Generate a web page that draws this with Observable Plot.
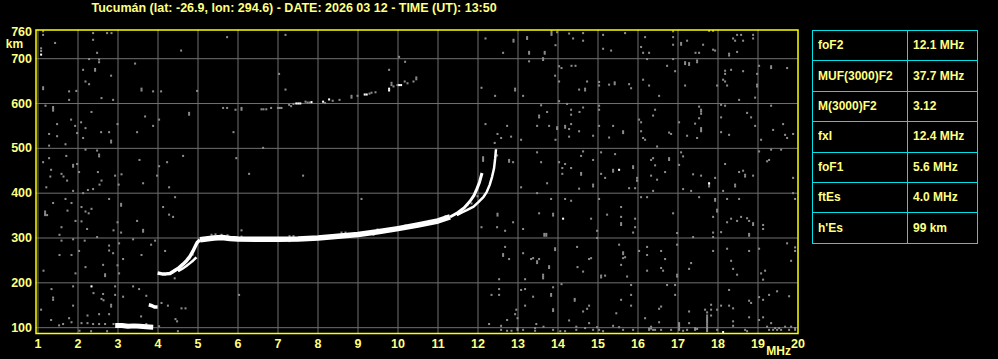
<!DOCTYPE html>
<html><head><meta charset="utf-8">
<script src="https://cdn.jsdelivr.net/npm/d3@7"></script>
<script src="https://cdn.jsdelivr.net/npm/@observablehq/plot@0.6"></script>
<style>
html,body{margin:0;padding:0;background:#000;}
#wrap{position:relative;width:998px;height:359px;background:#000;overflow:hidden;font-family:"Liberation Sans",Arial,sans-serif;}
#wrap svg{position:absolute;left:0;top:0;}
.tl{position:absolute;background:#00e0e8;}
.tt{position:absolute;color:#ffff80;font:bold 12px "Liberation Sans",Arial,sans-serif;line-height:14px;white-space:nowrap;}
</style>
</head><body>
<div id="wrap"></div>
<script>
const title = "Tucumán (lat: -26.9, lon: 294.6) - DATE: 2026 03 12 - TIME (UT): 13:50";
const ticksX = [1,2,3,4,5,6,7,8,9,10,11,12,13,14,15,16,17,18,19,20];
const gridX = [1,2,3,4,5,6,7,8,9,10,11,12,13,14,15,16,17,18,19];
const ticksY = [100,200,300,400,500,600,700,760];
const gridY = [100,200,300,400,500,600,700];
const tableLabels = ["foF2","MUF(3000)F2","M(3000)F2","fxI","foF1","ftEs","h'Es"];
const tableValues = ["12.1 MHz","37.7 MHz","3.12","12.4 MHz","5.6 MHz","4.0 MHz","99 km"];

// main F-layer O trace [MHz, km]
const traceO = [[3.99,222],[4.1,220],[4.2,220],[4.3,221],[4.39,226],[4.5,232],[4.62,241],[4.72,250],[4.8,259],[4.87,270],[4.93,281],[4.98,290],[5.05,296],[5.2,298],[5.4,300],[5.6,301],[5.8,299],[6.0,298],[6.5,297],[7.0,297],[7.5,298],[8.0,300],[8.5,304],[9.0,308],[9.5,314],[10.0,321],[10.5,329],[11.0,338],[11.3,347],[11.5,357],[11.65,367],[11.8,382],[11.9,395],[11.97,409],[12.04,425],[12.1,445]];
// X trace near cusp
const traceX = [[11.47,351],[11.6,357],[11.72,362],[11.89,370],[12.01,380],[12.14,392],[12.22,403],[12.29,418],[12.35,436],[12.4,455],[12.43,478],[12.45,498]];
// lower split branch
const traceLow = [[4.5,226],[4.6,231],[4.7,237],[4.8,244],[4.88,250],[4.96,257]];
// sporadic E traces
const traceEs = [[2.93,105],[3.1,105],[3.25,103],[3.4,104],[3.55,103],[3.7,102],[3.88,101]];
const traceEs2 = [[3.77,151],[3.85,149],[3.92,146],[3.99,146]];
// isolated bright echoes
const whiteCells = [[1.09,708],[2.35,191],[14.14,342],[15.54,451],[17.79,421],[18.14,89],[7.47,599],[7.52,599],[7.57,599],[7.85,602],[8.14,603],[8.29,608],[9.18,619],[9.23,619],[9.79,632],[9.79,628],[10.04,640],[10.09,640]];
// faint echoes (2-hop and trace edges)
const faintCells = [[6.1,589],[6.1,585],[6.6,586],[6.65,586],[6.72,586],[6.84,589],[7.01,589],[7.06,589],[7.1,589],[7.29,596],[7.34,593],[7.4,598],[7.7,603],[7.75,601],[7.8,601],[8.19,600],[8.38,605],[8.55,607],[8.85,616],[8.85,612],[9.0,616],[9.3,621],[9.35,623],[9.45,624],[9.85,640],[9.85,645],[9.9,637],[10.0,640],[10.18,648],[10.25,644],[10.4,648],[10.47,653],[10.47,657],
[5.35,306],[5.45,307],[5.6,306],[5.75,305],[6.1,302],[7.3,303],[7.4,303],[8.6,311],[8.7,311],[9.5,318],[10.2,327],[10.8,337],[11.2,348],[11.6,362],[9.4,306],[8.55,300],[7.3,292],[4.45,228],[4.58,233],[4.8,253],[4.88,262],[11.75,372],[11.85,376],[12.0,392]];
// background noise
const noise = [[1.14,760],[1.14,752],[1.09,722],[1.09,716],[1.44,734],[2.39,756],[2.39,741],[2.74,756],[2.85,756],[2.49,712],[4.59,717],[5.74,747],[2.29,698],[2.54,697],[2.54,691],[3.44,688],[2.14,674],[2.44,676],[2.44,672],[2.84,661],[2.2,648],[2.29,642],[1.14,635],[1.14,631],[3.6,632],[3.6,628],[1.79,626],[1.97,627],[3.89,626],[4.09,626],[4.99,627],[2.6,611],[2.89,607],[1.79,607],[1.39,591],[1.39,587],[1.39,583],[1.2,594],[5.64,589],[5.74,589],[5.95,585],[4.79,578],[4.79,574],[2.35,580],[3.69,570],[1.84,563],[2.09,557],[1.49,553],[1.94,549],[2.2,544],[3.0,553],[4.04,563],[3.89,549],[3.49,535],[2.59,535],[2.79,535],[1.29,531],[1.99,533],[1.49,526],[2.14,522],[2.84,516],[2.84,512],[1.7,508],[1.29,505],[5.9,535],[2.2,496],[2.49,494],[2.54,485],[2.54,481],[1.29,477],[1.72,482],[1.14,468],[1.89,462],[1.89,458],[1.99,464],[2.04,446],[1.34,451],[1.6,442],[1.65,436],[1.32,436],[1.74,427],[2.51,446],[2.6,427],[2.94,438],[3.99,438],[3.55,473],[4.04,459],[4.24,468],[4.64,482],[3.1,441],[3.03,418],[3.64,421],[2.55,418],[2.39,408],[2.26,406],[2.14,399],[1.89,404],[1.22,412],[4.29,412],[5.97,477],[1.39,377],[1.19,358],[1.19,354],[1.19,350],[1.24,350],[1.7,386],[1.85,377],[1.75,360],[2.1,368],[2.2,358],[2.28,354],[2.35,364],[2.79,386],[3.09,375],[3.09,371],[1.95,337],[2.1,336],[1.6,323],[2.24,319],[3.0,334],[2.9,316],[3.09,311],[3.49,337],[3.64,317],[3.64,313],[4.14,368],[4.29,351],[4.39,346],[4.44,390],[1.55,306],[1.6,293],[1.89,296],[2.18,293],[2.49,301],[2.04,270],[2.79,282],[2.79,271],[2.89,265],[3.04,287],[3.39,296],[3.84,284],[3.94,293],[3.6,261],[3.14,252],[4.19,270],[1.55,261],[1.85,261],[2.2,234],[2.64,239],[2.69,218],[2.69,214],[3.0,238],[3.04,220],[1.95,220],[1.15,226],[4.43,209],[1.35,185],[1.39,166],[1.39,161],[1.89,191],[2.4,176],[2.64,174],[2.94,191],[2.94,172],[3.14,168],[3.39,191],[3.54,185],[2.6,163],[2.65,160],[2.84,150],[2.84,146],[3.72,170],[4.1,154],[4.26,148],[4.6,142],[4.7,142],[4.45,118],[4.49,113],[1.09,139],[1.34,116],[1.54,104],[1.64,107],[1.79,120],[1.85,111],[1.89,148],[2.1,109],[2.25,126],[2.25,109],[2.39,107],[2.54,129],[2.54,107],[2.69,107],[2.79,129],[2.05,92],[2.34,91],[2.74,91],[3.59,124],[3.72,107],[4.04,102],[4.51,91],[2.9,107],
[7.2,752],[10.04,703],[10.19,692],[7.04,665],[9.79,674],[7.2,630],[6.64,500],[6.29,442],[7.64,438],[9.1,386],[6.04,172],[6.1,316],
[12.2,744],[12.9,741],[12.9,737],[13.24,747],[13.24,743],[13.85,756],[13.85,760],[13.85,752],[13.99,758],[14.29,755],[14.39,744],[14.64,756],[14.64,739],[15.14,752],[13.29,714],[13.29,710],[13.68,714],[13.68,710],[13.95,729],[15.14,721],[15.34,717],[12.64,712],[13.29,693],[13.64,700],[13.64,696],[14.04,682],[14.1,678],[14.35,683],[14.45,683],[13.94,661],[14.04,648],[14.74,648],[15.04,647],[15.04,639],[15.29,641],[15.43,646],[15.43,642],[14.54,630],[14.69,632],[14.69,628],[12.94,632],[12.94,628],[12.1,634],[12.44,616],[13.14,616],[14.04,604],[13.59,595],[14.24,598],[14.34,585],[14.34,574],[14.64,590],[14.55,580],[15.04,594],[15.04,585],[13.54,568],[13.54,572],[13.74,580],[12.2,553],[12.74,549],[13.49,549],[13.79,549],[13.99,546],[13.99,542],[14.19,549],[14.19,545],[14.34,553],[14.29,542],[14.54,537],[15.04,549],[15.39,549],[15.29,523],[14.89,527],[14.29,525],[13.95,518],[13.09,518],[12.84,525],[12.59,522],[12.5,531],[12.43,511],[13.49,490],[14.64,492],[14.59,482],[15.09,490],[15.44,486],[12.79,473],[12.79,469],[12.89,468],[12.49,483],[13.59,468],[14.04,468],[14.19,464],[14.34,455],[14.12,455],[14.12,442],[14.59,444],[14.59,440],[14.89,473],[15.09,442],[15.19,433],[15.39,451],[15.39,447],[14.89,418],[14.89,414],[14.54,409],[13.74,421],[13.09,412],[13.49,399],[13.84,386],[14.19,386],[14.34,382],[15.04,386],[13.54,354],[13.89,353],[13.89,349],[12.5,353],[12.5,349],[14.84,342],[15.24,351],[12.1,323],[12.49,323],[12.69,315],[12.89,334],[13.14,319],[13.67,308],[13.72,308],[13.67,304],[13.72,304],[14.99,315],[14.99,299],[12.69,279],[12.64,259],[12.64,263],[12.79,252],[13.14,265],[13.34,252],[13.39,254],[13.49,243],[13.49,247],[13.54,252],[13.79,232],[13.79,236],[13.94,276],[13.94,272],[14.49,279],[14.84,254],[14.79,252],[14.5,234],[14.64,224],[15.09,211],[15.09,215],[15.19,215],[13.64,209],[13.64,213],[13.64,217],[13.19,207],[12.54,207],[13.89,189],[14.1,196],[13.09,183],[13.19,185],[12.54,185],[12.54,172],[12.35,172],[13.39,168],[13.84,170],[13.84,174],[13.89,136],[13.89,140],[13.19,148],[14.43,163],[14.43,159],[14.79,148],[14.74,141],[14.64,135],[12.97,139],[12.94,129],[12.74,116],[12.29,107],[12.59,103],[12.59,94],[13.0,120],[13.0,94],[13.0,98],[13.47,107],[13.44,98],[13.44,92],[13.14,94],[13.65,101],[13.89,94],[14.07,91],[14.19,91],[14.29,115],[14.47,101],[14.47,94],[14.69,98],[14.79,109],[14.89,94],[14.99,100],[15.04,94],[15.14,91],[15.39,103],[12.85,92],[12.74,92],[12.14,475],[12.14,479],[12.14,471],
[15.69,756],[16.19,747],[16.89,760],[16.89,747],[16.89,730],[17.24,739],[17.09,734],[17.09,730],[16.14,712],[16.29,712],[16.09,725],[17.45,712],[17.54,712],[17.64,730],[17.79,761],[17.89,761],[17.89,719],[17.94,717],[18.39,744],[18.44,739],[18.49,752],[18.59,752],[18.64,739],[18.89,752],[18.89,744],[18.29,706],[18.29,710],[18.49,714],[16.24,698],[16.89,698],[17.19,691],[17.19,687],[17.29,685],[17.29,689],[17.49,695],[17.49,691],[16.74,683],[16.94,671],[18.19,672],[18.19,665],[18.34,674],[18.64,671],[19.04,683],[19.34,682],[19.34,678],[19.74,678],[18.99,665],[18.99,637],[18.99,641],[16.14,652],[18.14,652],[18.19,648],[18.24,639],[17.99,639],[17.19,639],[16.29,639],[15.79,642],[15.84,633],[16.54,616],[18.54,607],[18.94,612],[17.54,592],[17.59,581],[17.59,576],[17.59,585],[18.09,596],[18.19,594],[19.34,594],[16.44,585],[16.39,572],[17.44,554],[17.54,566],[17.59,544],[17.59,537],[17.59,540],[17.04,557],[18.09,568],[18.74,578],[18.84,568],[18.94,549],[19.64,553],[19.39,540],[19.69,529],[19.74,522],[19.89,531],[19.09,518],[15.64,537],[15.64,533],[16.04,563],[16.09,557],[16.09,537],[16.14,522],[16.19,518],[16.79,534],[16.84,531],[17.24,527],[17.49,522],[18.09,535],[18.29,529],[16.49,503],[16.39,477],[16.34,473],[16.44,461],[16.79,477],[16.79,473],[17.04,462],[17.09,490],[17.14,481],[16.34,438],[16.49,429],[16.69,446],[15.89,459],[15.89,455],[15.99,433],[15.99,427],[15.79,410],[15.94,410],[16.39,404],[17.14,408],[17.34,404],[17.39,441],[17.59,438],[17.94,433],[17.79,418],[17.79,414],[18.19,464],[18.54,446],[18.64,449],[18.69,440],[18.69,436],[18.44,418],[18.44,414],[18.89,438],[18.14,404],[19.04,492],[19.34,496],[19.59,496],[19.29,473],[19.24,470],[19.89,433],[16.09,390],[16.24,390],[17.54,390],[17.94,386],[17.94,382],[17.99,362],[17.99,358],[18.24,386],[18.54,386],[19.89,399],[19.94,386],[15.59,368],[15.59,346],[15.59,328],[15.59,332],[15.94,342],[15.94,323],[15.89,311],[16.89,354],[17.89,346],[17.89,311],[17.89,301],[18.09,312],[18.24,334],[18.34,342],[18.49,337],[18.59,346],[18.74,343],[18.79,337],[18.89,332],[18.89,328],[18.79,308],[18.79,304],[19.14,328],[19.14,319],[16.99,310],[17.39,301],[15.54,284],[15.64,267],[15.64,263],[15.64,254],[15.69,256],[15.59,239],[15.74,213],[16.04,270],[16.24,279],[16.24,261],[16.59,270],[16.69,252],[16.59,232],[16.64,226],[16.24,226],[16.99,284],[16.99,213],[16.99,217],[17.34,243],[17.29,230],[17.89,270],[18.24,275],[18.34,248],[18.39,230],[18.49,217],[18.79,270],[19.04,275],[19.09,220],[19.19,226],[19.14,206],[19.74,287],[19.94,278],[19.94,270],[19.84,248],[15.84,194],[15.84,172],[15.59,161],[15.84,148],[15.47,131],[16.74,194],[16.94,194],[16.94,172],[16.59,146],[16.54,141],[16.19,120],[16.54,111],[17.29,135],[17.69,139],[17.74,133],[17.84,150],[17.84,139],[17.99,139],[18.09,148],[18.29,183],[18.29,148],[18.39,142],[18.39,113],[18.39,103],[18.79,159],[18.84,154],[18.79,122],[19.04,167],[19.14,161],[19.29,172],[19.49,180],[19.79,169],[19.04,116],[19.14,122],[19.34,109],[17.29,109],[17.04,109],[17.04,105],[17.04,101],[17.04,97],[17.04,94],[17.74,126],[17.74,122],[17.74,118],[17.74,114],[17.74,110],[17.74,106],[17.74,102],[17.74,98],[17.74,94],[17.74,91],[17.84,126],[15.54,100],[15.64,94],[15.89,94],[16.29,94],[16.34,101],[16.39,94],[16.44,94],[16.59,94],[16.84,94],[17.14,92],[17.24,94],[17.44,98],[17.99,94],[18.69,94],[18.74,91],[19.24,101],[19.29,94],[19.39,94],[19.44,98],[19.49,94],[19.54,98],[19.59,94],[19.69,101],[19.79,94],[19.84,101],[19.94,94],[19.94,98],[15.99,427],[17.49,96],[17.44,94],[16.34,97],[16.29,97]];

const YEL = "#ffff80";
const cell = (data, fill) => Plot.rect(data, {
  x1: d => d[0] - 0.025, x2: d => d[0] + 0.025,
  y1: d => d[1] - 2.3, y2: d => d[1] + 2.3, fill, inset: 0
});
const line = (data, w) => Plot.line(data, {x: d => d[0], y: d => d[1], stroke: "white", strokeWidth: w, strokeLinecap: "butt", curve: "linear"});

const chart = Plot.plot({
  width: 998, height: 359,
  marginLeft: 35.5, marginRight: 200.5, marginTop: 29.5, marginBottom: 26,
  style: {background: "#000", color: YEL, fontFamily: "'Liberation Sans', Arial, sans-serif", fontWeight: "bold", fontSize: "12.5px", overflow: "visible"},
  x: {domain: [0.95, 20]},
  y: {domain: [87, 764]},
  marks: [
    Plot.ruleX(gridX, {stroke: "#707070", strokeWidth: 1}),
    Plot.ruleY(gridY, {stroke: "#707070", strokeWidth: 1}),
    cell(noise, "#8c8c8c"),
    cell(faintCells, "#8c8c8c"),
    line(traceO.filter(d => d[0] <= 5.05), 3.5),
    line(traceO.filter(d => d[0] >= 5.05 && d[0] <= 11.3), 5.5),
    line(traceO.filter(d => d[0] >= 11.3), 3),
    line(traceX, 2.5),
    line(traceLow, 2.5),
    line(traceEs, 5),
    line(traceEs2, 3.5),
    cell(whiteCells, "white"),
    Plot.frame({stroke: "#ffff00", strokeWidth: 1.5}),
    Plot.axisX(ticksX, {tickSize: 0, tickPadding: 6, label: null, fill: YEL, fontSize: 12.5, fontWeight: "bold"}),
    Plot.axisY(ticksY, {tickSize: 0, tickPadding: 4, label: null, fill: YEL, fontSize: 12.5, fontWeight: "bold"}),
    Plot.text(["km"], {frameAnchor: "top-left", lineAnchor: "middle", dx: -21.5, dy: 14.5, textAnchor: "middle", fill: YEL, fontSize: 12, fontWeight: "bold"}),
    Plot.text(["MHz"], {frameAnchor: "bottom-right", lineAnchor: "middle", dx: -7, dy: 18, textAnchor: "end", fill: YEL, fontSize: 12, fontWeight: "bold"}),
    Plot.text([title], {frameAnchor: "top-left", lineAnchor: "middle", dx: 55.5, dy: -22.5, textAnchor: "start", fill: YEL, fontSize: 12.5, fontWeight: "bold"})
  ]
});
const wrap = document.getElementById("wrap");
wrap.appendChild(chart);

// parameter table
const tx0 = 812, tx1 = 907, tx2 = 977, ty0 = 30, rowH = 30.4;
const addDiv = (cls, css, text) => {
  const d = document.createElement("div"); d.className = cls;
  Object.assign(d.style, css); if (text != null) d.textContent = text; wrap.appendChild(d);
};
for (let i = 0; i <= tableLabels.length; i++) {
  addDiv("tl", {left: tx0 + "px", top: Math.round(ty0 + i * rowH) + "px", width: (tx2 - tx0 + 1) + "px", height: "1px"});
}
[tx0, tx1, tx2].forEach(x => addDiv("tl", {left: x + "px", top: ty0 + "px", width: "1px", height: Math.round(tableLabels.length * rowH) + "px"}));
tableLabels.forEach((lab, i) => {
  const cy = ty0 + i * rowH + rowH / 2 - 7;
  addDiv("tt", {left: (tx0 + 6) + "px", top: cy + "px"}, lab);
  addDiv("tt", {left: (tx1 + 6) + "px", top: cy + "px"}, tableValues[i]);
});
</script>
</body></html>
